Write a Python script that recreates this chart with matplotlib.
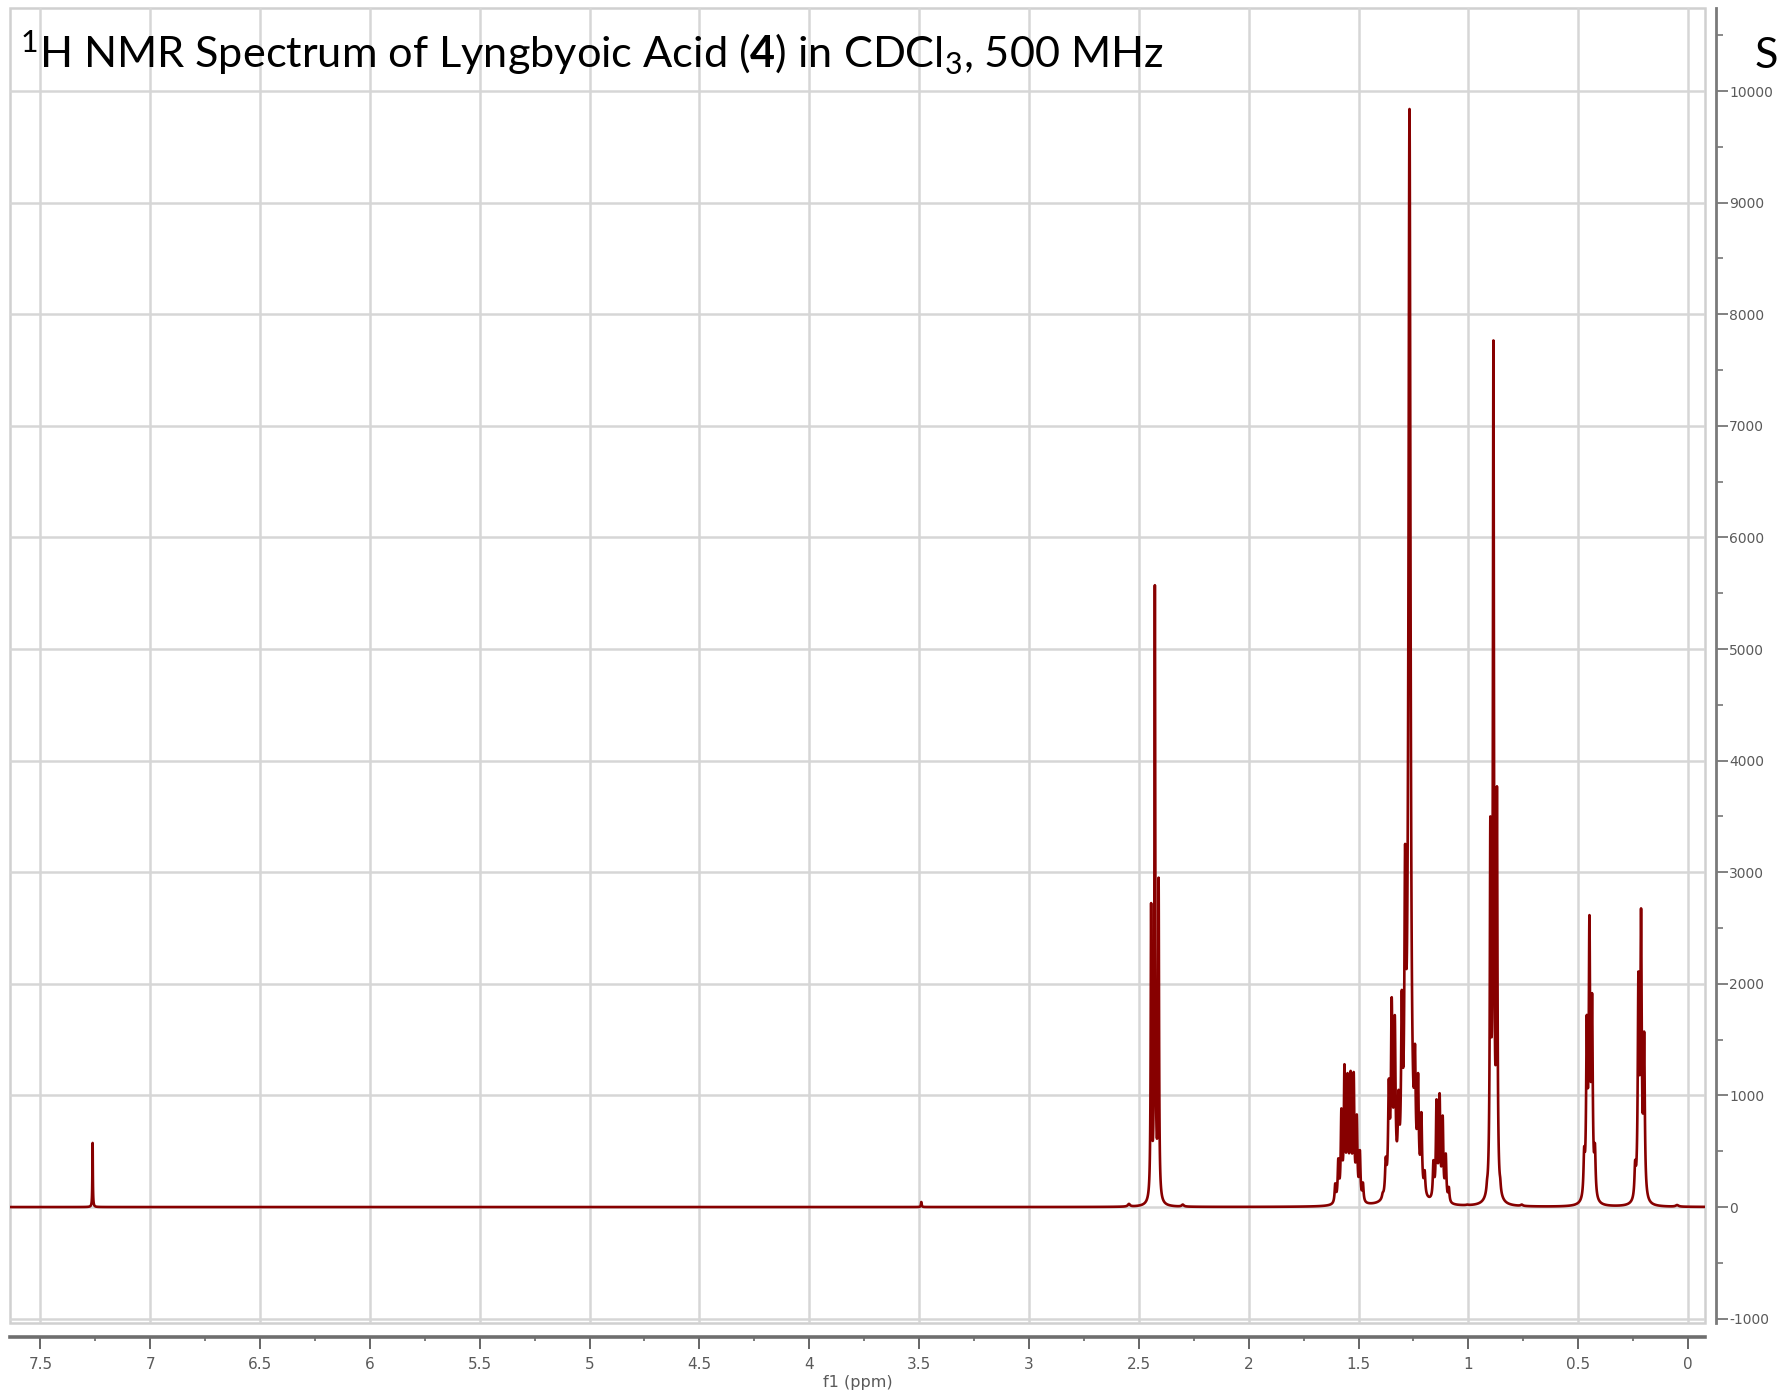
import numpy as np
import matplotlib
matplotlib.use("Agg")
import matplotlib.pyplot as plt
from matplotlib.ticker import MultipleLocator, FuncFormatter
from matplotlib.patches import Rectangle

# ---------------- text ----------------
title_text = r"$^{1}$H NMR Spectrum of Lyngbyoic Acid ($\mathbf{4}$) in CDCl$_{3}$, 500 MHz"
corner_text = "S"
x_label = "f1 (ppm)"

# ---------------- peak list ----------------
# chemical shift (ppm), apparent height (intensity units), half width (ppm)
solvent_ppm = [7.262]
solvent_height = [575]
solvent_hwhm = [0.0013]

minor_ppm = [3.490, 2.545, 2.300, 1.005, 0.757, 0.050]
minor_height = [45, 28, 22, 22, 22, 18]
minor_hwhm = [0.002, 0.006, 0.006, 0.006, 0.006, 0.008]

t242_ppm = [2.444, 2.427, 2.410]
t242_height = [2724, 5572, 2952]
t242_hwhm = [0.0024, 0.0024, 0.0024]

m155_ppm = [1.606, 1.592, 1.578, 1.564, 1.550, 1.536, 1.522, 1.508, 1.494, 1.480]
m155_height = [212, 436, 884, 1280, 1200, 1220, 1210, 830, 510, 220]
m155_hwhm = [0.0034] * 10

m126_ppm = [1.390, 1.376, 1.362, 1.349, 1.335, 1.318, 1.303, 1.288, 1.268,
            1.243, 1.229, 1.214, 1.199]
m126_height = [130, 450, 1150, 1880, 1720, 1050, 1944, 3250, 9840,
               1460, 1200, 850, 330]
m126_hwhm = [0.004, 0.004, 0.004, 0.004, 0.004, 0.004, 0.004, 0.004, 0.0055,
             0.0036, 0.0036, 0.0036, 0.0036]

m112_ppm = [1.159, 1.145, 1.131, 1.117, 1.103, 1.089]
m112_height = [420, 965, 1020, 820, 480, 180]
m112_hwhm = [0.0034] * 6

t088_ppm = [0.915, 0.900, 0.886, 0.870, 0.855]
t088_height = [250, 3500, 7767, 3770, 260]
t088_hwhm = [0.0029] * 5

m044_ppm = [0.473, 0.461, 0.449, 0.437, 0.424]
m044_height = [540, 1720, 2616, 1915, 570]
m044_hwhm = [0.0036] * 5

m021_ppm = [0.241, 0.226, 0.214, 0.200, 0.188]
m021_height = [420, 2109, 2676, 1571, 150]
m021_hwhm = [0.0036] * 5

x_ticks = [7.5, 7, 6.5, 6, 5.5, 5, 4.5, 4, 3.5, 3, 2.5, 2, 1.5, 1, 0.5, 0]
y_ticks = [-1000, 0, 1000, 2000, 3000, 4000, 5000, 6000, 7000, 8000, 9000, 10000]

# ---------------- build the trace ----------------
pos = np.array(solvent_ppm + minor_ppm + t242_ppm + m155_ppm + m126_ppm + m112_ppm
               + t088_ppm + m044_ppm + m021_ppm, dtype=float)
hgt = np.array(solvent_height + minor_height + t242_height + m155_height + m126_height
               + m112_height + t088_height + m044_height + m021_height, dtype=float)
wid = np.array(solvent_hwhm + minor_hwhm + t242_hwhm + m155_hwhm + m126_hwhm + m112_hwhm
               + t088_hwhm + m044_hwhm + m021_hwhm, dtype=float)

# amplitudes so that the summed trace reaches the read heights at each line
A = wid[None, :] ** 2 / ((pos[:, None] - pos[None, :]) ** 2 + wid[None, :] ** 2)
amp = hgt.copy()
for _ in range(600):
    amp = np.clip(amp + 0.6 * (hgt - A @ amp), 0, None)

ppm = np.arange(-0.09, 7.65, 0.00015)
inten = np.zeros_like(ppm)
for p, a, g in zip(pos, amp, wid):
    inten += a * g * g / ((ppm - p) ** 2 + g * g)

# ---------------- figure ----------------
plt.rcParams["path.simplify"] = False
plt.rcParams["axes.unicode_minus"] = False
plt.rcParams["mathtext.fontset"] = "custom"
plt.rcParams["mathtext.rm"] = "Lato"
plt.rcParams["mathtext.bf"] = "Lato:bold"
plt.rcParams["mathtext.it"] = "Lato:italic"

W, H = 1777, 1395
fig = plt.figure(figsize=(W / 100, H / 100), dpi=100)
L, R, T, B = 10, 1705, 8, 1323
ax = fig.add_axes([L / W, 1 - B / H, (R - L) / W, (B - T) / H])

ax.plot(ppm, inten, color="#870000", lw=1.9, solid_joinstyle="round", zorder=3)

ax.set_xlim(7.638, -0.077)
ax.set_ylim(-1039, 10744)

grid_c = "#d6d6d6"
ax.xaxis.set_major_locator(plt.FixedLocator(x_ticks))
ax.xaxis.set_minor_locator(MultipleLocator(0.25))
ax.yaxis.set_major_locator(plt.FixedLocator(y_ticks))
ax.yaxis.set_minor_locator(MultipleLocator(500))
ax.xaxis.set_major_formatter(FuncFormatter(lambda v, _: f"{v:g}"))
ax.yaxis.set_major_formatter(FuncFormatter(lambda v, _: f"{int(round(v))}"))
ax.grid(True, which="major", color=grid_c, lw=1.8, zorder=0)

ax.yaxis.tick_right()
for s in ["left", "top"]:
    ax.spines[s].set_visible(False)
ax.spines["bottom"].set_position(("outward", 10))
ax.spines["bottom"].set_color("#6e6e6e")
ax.spines["bottom"].set_linewidth(2.6)
ax.spines["right"].set_position(("outward", 8))
ax.spines["right"].set_color("#7a7a7a")
ax.spines["right"].set_linewidth(2.0)

ax.tick_params(axis="x", which="major", direction="out", length=8.5, width=1.4,
               color="#666666", labelsize=11, labelcolor="#5a5a5a", pad=6)
ax.tick_params(axis="x", which="minor", direction="out", length=3, width=1.2,
               color="#666666")
ax.tick_params(axis="y", which="major", direction="out", length=8.5, width=1.3,
               color="#777777", labelsize=10, labelcolor="#5a5a5a", pad=1,
               right=True, left=False, labelright=True, labelleft=False)
ax.tick_params(axis="y", which="minor", direction="out", length=5, width=1.2,
               color="#777777", right=True, left=False)

ax.add_patch(Rectangle((0, 0), 1, 1, transform=ax.transAxes, fill=False,
                       edgecolor="#d0d0d0", lw=1.8, clip_on=False, zorder=1))

ax.set_xlabel(x_label, fontsize=11.5, color="#5a5a5a", labelpad=2)

# title (fitted to the reference width)
base_y = 1 - 68 / H
t = fig.text(20 / W, base_y, title_text, fontsize=30, family="Lato",
             ha="left", va="baseline", color="black")
fig.canvas.draw()
w = t.get_window_extent().width
t.set_fontsize(30 * 1142 / w)
fig.text(1755 / W, base_y, corner_text, fontsize=30 * 1142 / w, family="Lato",
         ha="left", va="baseline", color="black")

fig.savefig("out.png", dpi=100, facecolor="white")
